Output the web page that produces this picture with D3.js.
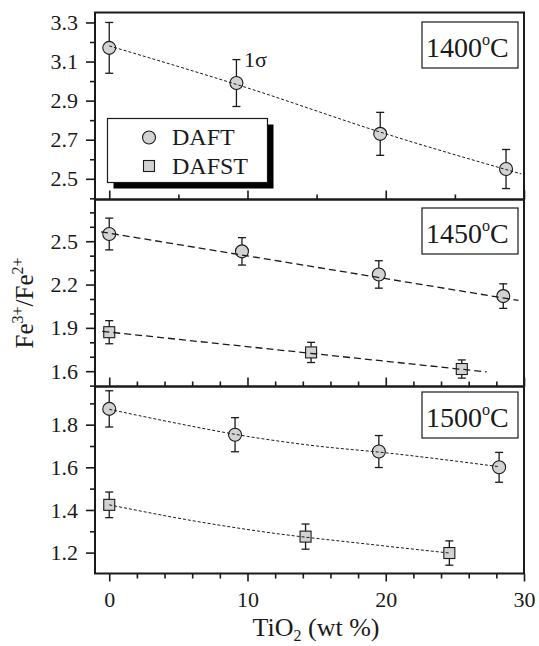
<!DOCTYPE html>
<html>
<head>
<meta charset="utf-8">
<script src="https://cdn.jsdelivr.net/npm/d3@7"></script>
<style>
  body { margin: 0; background: #fff; }
  svg, svg text { font-family: 'Liberation Serif', 'Times New Roman', Tinos, 'DejaVu Serif', serif; }
</style>
</head>
<body>
<script>
// --- data ---
const temps = ['1400', '1450', '1500']
const xMajor = [0, 10, 20, 30]

const daft1400X = [0, 9.2, 19.6, 28.7]
const daft1400Y = [3.17, 2.99, 2.73, 2.55]
const daft1400Err = [0.13, 0.12, 0.11, 0.10]
const fit1400X = [0, 10, 20, 29.8]
const fit1400Y = [3.18, 2.965, 2.73, 2.525]

const daft1450X = [0, 9.6, 19.5, 28.5]
const daft1450Y = [2.55, 2.43, 2.27, 2.12]
const daft1450Err = [0.11, 0.095, 0.095, 0.085]
const dafst1450X = [0, 14.6, 25.5]
const dafst1450Y = [1.87, 1.73, 1.615]
const dafst1450Err = [0.08, 0.07, 0.063]
const fitDaft1450X = [-0.6, 29.6]
const fitDaft1450Y = [2.565, 2.09]
const fitDafst1450X = [-0.5, 27.3]
const fitDafst1450Y = [1.876, 1.595]

const daft1500X = [0, 9.1, 19.5, 28.2]
const daft1500Y = [1.874, 1.753, 1.674, 1.60]
const daft1500Err = [0.085, 0.08, 0.075, 0.07]
const dafst1500X = [0, 14.2, 24.6]
const dafst1500Y = [1.424, 1.275, 1.198]
const dafst1500Err = [0.06, 0.059, 0.057]
const fitDaft1500X = [0, 5, 10, 15, 20, 28.2]
const fitDaft1500Y = [1.872, 1.805, 1.745, 1.70, 1.668, 1.603]
const fitDafst1500X = [0, 6, 12, 18, 24.6]
const fitDafst1500Y = [1.424, 1.35, 1.29, 1.245, 1.198]

const yDomain1400 = [2.394, 3.351]
const yDomain1450 = [1.494, 2.789]
const yDomain1500 = [1.102, 1.979]
const yMajor1400 = [2.5, 2.7, 2.9, 3.1, 3.3]
const yMinor1400 = [2.4, 2.6, 2.8, 3.0, 3.2]
const yMajor1450 = [1.6, 1.9, 2.2, 2.5]
const yMinor1450 = [1.5, 1.7, 1.8, 2.0, 2.1, 2.3, 2.4, 2.6, 2.7]
const yMajor1500 = [1.2, 1.4, 1.6, 1.8]
const yMinor1500 = [1.3, 1.5, 1.7, 1.9]

const legendNames = ['DAFT', 'DAFST']

const zip = (xs, ys, es) => xs.map((x, i) => ({x: x, y: ys[i], e: es ? es[i] : 0}))

const panels = [
    {temp: temps[0], domain: yDomain1400, major: yMajor1400, minor: yMinor1400,
     xMinor: [5, 15, 25], dash: '3,2', width: 1,
     series: [{shape: 'circle', pts: zip(daft1400X, daft1400Y, daft1400Err), fit: zip(fit1400X, fit1400Y)}]},
    {temp: temps[1], domain: yDomain1450, major: yMajor1450, minor: yMinor1450,
     xMinor: d3.range(2, 30, 2).filter(d => d % 10), dash: '7,4', width: 1.3,
     series: [{shape: 'circle', pts: zip(daft1450X, daft1450Y, daft1450Err), fit: zip(fitDaft1450X, fitDaft1450Y)},
              {shape: 'square', pts: zip(dafst1450X, dafst1450Y, dafst1450Err), fit: zip(fitDafst1450X, fitDafst1450Y)}]},
    {temp: temps[2], domain: yDomain1500, major: yMajor1500, minor: yMinor1500,
     xMinor: d3.range(2, 30, 2).filter(d => d % 10), dash: '3,2', width: 1,
     series: [{shape: 'circle', pts: zip(daft1500X, daft1500Y, daft1500Err), fit: zip(fitDaft1500X, fitDaft1500Y)},
              {shape: 'square', pts: zip(dafst1500X, dafst1500Y, dafst1500Err), fit: zip(fitDafst1500X, fitDafst1500Y)}]}
]

// --- layout ---
const W = 539, H = 646
const left = 95, right = 524
const panelTops = [12.5, 199.5, 386.5]
const panelH = 187
const labelBoxY = [22, 208, 392]
const ink = '#1a1a1a'
const fillGrey = '#d2d2d2'
const serif = "'Liberation Serif', 'Times New Roman', Tinos, 'DejaVu Serif', serif"

const svg = d3.select('body').append('svg')
    .attr('width', W)
    .attr('height', H)
    .attr('font-family', serif)

svg.append('rect').attr('width', W).attr('height', H).attr('fill', '#fff')

const x = d3.scaleLinear().domain([-1.03, 30]).range([left, right])

function drawMarker(g, shape) {
    if (shape == 'circle') {
        g.append('circle').attr('r', 6.5)
            .attr('fill', fillGrey).attr('stroke', ink).attr('stroke-width', 1.1)
    } else {
        g.append('rect').attr('x', -5.5).attr('y', -5.5)
            .attr('width', 11).attr('height', 11)
            .attr('fill', fillGrey).attr('stroke', ink).attr('stroke-width', 1.1)
    }
}

panels.forEach((p, i) => {
    const top = panelTops[i], bottom = top + panelH
    const y = d3.scaleLinear().domain(p.domain).range([bottom, top])
    const g = svg.append('g').attr('class', 'panel')

    // y axis
    g.append('g').attr('transform', `translate(${left},0)`)
        .call(d3.axisLeft(y).tickValues(p.major).tickSize(9).tickPadding(8)
            .tickFormat(d3.format('.1f')))
    g.append('g').attr('transform', `translate(${left},0)`)
        .call(d3.axisLeft(y).tickValues(p.minor.filter(d => y(d) <= bottom && y(d) >= top))
            .tickSize(5).tickFormat(''))

    // x axis
    const last = i == panels.length - 1
    const xAxisMaj = last ? d3.axisBottom(x) : d3.axisTop(x)
    g.append('g').attr('transform', `translate(0,${bottom})`)
        .call(xAxisMaj.tickValues(xMajor).tickSize(last ? 8 : 9).tickPadding(10)
            .tickFormat(last ? d3.format('d') : ''))
    const xAxisMin = last ? d3.axisBottom(x) : d3.axisTop(x)
    g.append('g').attr('transform', `translate(0,${bottom})`)
        .call(xAxisMin.tickValues(p.xMinor).tickSize(5).tickFormat(''))

    g.selectAll('.domain').remove()
    g.selectAll('g').attr('font-family', serif).attr('font-size', 22)
    g.selectAll('.tick line').attr('stroke', ink).attr('stroke-width', 1.6)
    g.selectAll('.tick text').attr('fill', ink)

    // error bars and markers
    p.series.forEach(s => {
        const eb = g.append('g').selectAll('g.err')
            .data(s.pts)
            .join('g')
            .attr('class', 'err')
            .attr('stroke', ink)
            .attr('stroke-width', 1.3)
        eb.append('line')
            .attr('x1', d => x(d.x)).attr('x2', d => x(d.x))
            .attr('y1', d => y(d.y + d.e)).attr('y2', d => y(d.y - d.e))
        eb.append('line')
            .attr('x1', d => x(d.x) - 4).attr('x2', d => x(d.x) + 4)
            .attr('y1', d => y(d.y + d.e)).attr('y2', d => y(d.y + d.e))
        eb.append('line')
            .attr('x1', d => x(d.x) - 4).attr('x2', d => x(d.x) + 4)
            .attr('y1', d => y(d.y - d.e)).attr('y2', d => y(d.y - d.e))

        g.append('g').selectAll('g.mark')
            .data(s.pts)
            .join('g')
            .attr('class', 'mark')
            .attr('transform', d => `translate(${x(d.x)},${y(d.y)})`)
            .each(function () { drawMarker(d3.select(this), s.shape) })
    })

    // fit lines on top of markers
    const line = d3.line().x(d => x(d.x)).y(d => y(d.y)).curve(d3.curveMonotoneX)
    p.series.forEach(s => {
        g.append('path')
            .attr('d', line(s.fit))
            .attr('fill', 'none')
            .attr('stroke', ink)
            .attr('stroke-width', p.width)
            .attr('stroke-dasharray', p.dash)
    })

    // frame
    g.append('rect')
        .attr('x', left).attr('y', top)
        .attr('width', right - left).attr('height', panelH)
        .attr('fill', 'none').attr('stroke', ink).attr('stroke-width', 2)

    // temperature box
    g.append('rect')
        .attr('x', 422).attr('y', labelBoxY[i])
        .attr('width', 96).attr('height', 46)
        .attr('fill', '#fff').attr('stroke', ink).attr('stroke-width', 1.2)
    const t = g.append('text')
        .attr('x', 426).attr('y', labelBoxY[i] + 34.5)
        .attr('fill', ink).attr('font-size', 28)
    t.append('tspan').text(p.temp)
    t.append('tspan').text('o').attr('font-size', 16).attr('dy', -12)
    t.append('tspan').text('C').attr('dy', 12)
})

// 1 sigma note
svg.append('text')
    .attr('x', 244).attr('y', 67)
    .attr('fill', ink).attr('font-size', 22)
    .text('1σ')

// legend
const lg = svg.append('g')
lg.append('rect').attr('x', 113.5).attr('y', 124.5).attr('width', 160).attr('height', 64).attr('fill', '#000')
lg.append('rect').attr('x', 107.5).attr('y', 118.5).attr('width', 160).attr('height', 64)
    .attr('fill', '#fff').attr('stroke', ink).attr('stroke-width', 1.2)
const items = lg.selectAll('g.item')
    .data(legendNames)
    .join('g')
    .attr('class', 'item')
    .attr('transform', (d, i) => `translate(149,${137.5 + i * 28.5})`)
items.each(function (d, i) { drawMarker(d3.select(this), i == 0 ? 'circle' : 'square') })
items.append('text')
    .attr('x', 23).attr('y', 7.5)
    .attr('fill', ink).attr('font-size', 24)
    .text(d => d)

// axis titles
const yl = svg.append('text')
    .attr('transform', 'translate(33,303) rotate(-90)')
    .attr('text-anchor', 'middle')
    .attr('fill', ink).attr('font-size', 25)
yl.append('tspan').text('Fe')
yl.append('tspan').text('3+').attr('font-size', 16).attr('dy', -10)
yl.append('tspan').text('/Fe').attr('dy', 10)
yl.append('tspan').text('2+').attr('font-size', 16).attr('dy', -10)

const xl = svg.append('text')
    .attr('x', 316).attr('y', 636)
    .attr('text-anchor', 'middle')
    .attr('fill', ink).attr('font-size', 26)
xl.append('tspan').text('TiO')
xl.append('tspan').text('2').attr('font-size', 16).attr('dy', 5)
xl.append('tspan').text(' (wt %)').attr('dy', -5)
</script>
</body>
</html>
